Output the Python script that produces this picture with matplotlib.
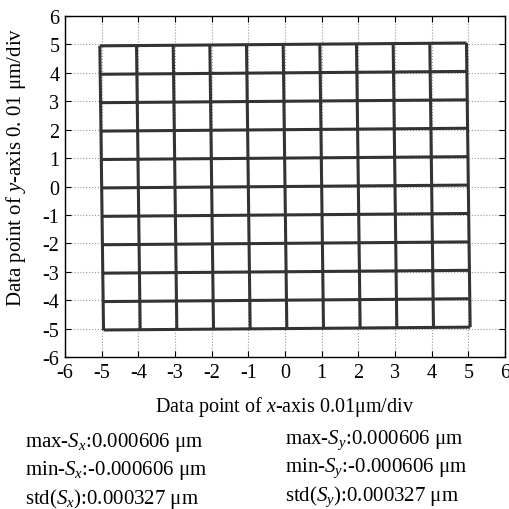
import numpy as np
import matplotlib.pyplot as plt

plt.rcParams['font.family'] = ['Liberation Serif', 'DejaVu Serif']
plt.rcParams['mathtext.fontset'] = 'custom'
plt.rcParams['mathtext.rm'] = 'Liberation Serif'
plt.rcParams['mathtext.it'] = 'Liberation Serif:italic'
plt.rcParams['axes.unicode_minus'] = False

# x where each vertical grid line crosses y=+5 (top) and y=-5 (bottom)
vert_x_top = [-5.05, -4.05, -3.05, -2.05, -1.05, -0.05, 0.95, 1.95, 2.95, 3.95, 4.95]
vert_x_bot = [-4.95, -3.95, -2.95, -1.95, -0.95, 0.05, 1.05, 2.05, 3.05, 4.05, 5.05]
# y where each horizontal grid line crosses x=-5 (left) and x=+5 (right)
horiz_y_left = [-5.05, -4.05, -3.05, -2.05, -1.05, -0.05, 0.95, 1.95, 2.95, 3.95, 4.95]
horiz_y_right = [-4.95, -3.95, -2.95, -1.95, -0.95, 0.05, 1.05, 2.05, 3.05, 4.05, 5.05]

ticks = [-6, -5, -4, -3, -2, -1, 0, 1, 2, 3, 4, 5, 6]
stats_x = [r'max-$S_{x}$:0.000606 μm', r'min-$S_{x}$:-0.000606 μm', r'std($S_{x}$):0.000327 μm']
stats_y = [r'max-$S_{y}$:0.000606 μm', r'min-$S_{y}$:-0.000606 μm', r'std($S_{y}$):0.000327 μm']

# node positions = intersection of vertical line i and horizontal line j
a = (np.array(vert_x_top) + np.array(vert_x_bot)) / 2
b = (np.array(vert_x_top) - np.array(vert_x_bot)) / 10
c = (np.array(horiz_y_left) + np.array(horiz_y_right)) / 2
d = (np.array(horiz_y_right) - np.array(horiz_y_left)) / 10
A, C = np.meshgrid(a, c, indexing='ij')
B, D = np.meshgrid(b, d, indexing='ij')
X = (A + B * C) / (1 - B * D)
Y = C + D * X

fig = plt.figure(figsize=(5.09, 5.10), dpi=100)
ax = fig.add_axes([65 / 509, 152 / 510, 440 / 509, 341 / 510])

line_kw = dict(color='#333333', lw=2.2, solid_capstyle='butt')
for i in range(len(a)):
    ax.plot(X[i, :], Y[i, :], **line_kw)  # vertical lines
for j in range(len(c)):
    ax.plot(X[:, j], Y[:, j], **line_kw)  # horizontal lines

ax.set_xlim(-6, 6)
ax.set_ylim(-6, 6)
ax.set_xticks(ticks)
ax.set_yticks(ticks)
ax.grid(True, ls=':', color='#999999', lw=0.8)
ax.set_axisbelow(True)
ax.tick_params(direction='in', top=True, right=True, length=4, labelsize=14.5, pad=4)
for s in ax.spines.values():
    s.set_linewidth(1.0)

ax.set_xlabel(r'Data point of $x$-axis 0.01μm/div', fontsize=14.5, labelpad=9)
ax.set_ylabel(r'Data point of $y$-axis 0. 01 μm/div', fontsize=15)
ax.yaxis.set_label_coords(-0.083, 0.56)

for k, t in enumerate(stats_x):
    fig.text(25 / 509, 1 - (443 + 28 * k) / 510, t, fontsize=15, va='center', ha='left')
for k, t in enumerate(stats_y):
    fig.text(285 / 509, 1 - (440 + 28.5 * k) / 510, t, fontsize=15, va='center', ha='left')

fig.savefig('out.png', dpi=100)
